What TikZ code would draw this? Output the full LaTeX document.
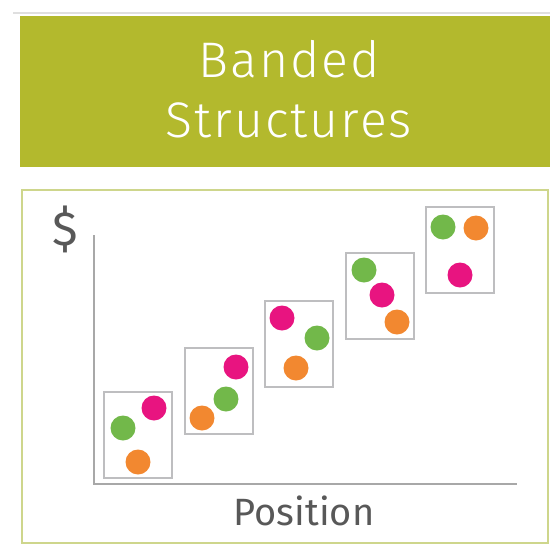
\documentclass[tikz,border=0pt]{standalone}
\usepackage{fontspec}
\setmainfont{Fira Sans}
\newfontfamily\titlefont{Fira Sans Light}[LetterSpace=4]

\definecolor{bandolive}{RGB}{179,185,45}
\definecolor{panelrim}{RGB}{206,214,140}
\definecolor{axisgray}{RGB}{168,168,168}
\definecolor{boxgray}{RGB}{190,190,192}
\definecolor{labelgray}{RGB}{88,88,88}
\definecolor{dotpink}{RGB}{232,20,128}
\definecolor{dotgreen}{RGB}{114,184,74}
\definecolor{dotorange}{RGB}{242,136,48}

\begin{document}
\begin{tikzpicture}[x=1pt,y=-1pt,
  band/.style={draw=boxgray,line width=2pt,minimum width=68pt,minimum height=86pt,inner sep=0pt},
  dot/.style={circle,inner sep=0pt,minimum size=25pt},
  pink dot/.style={dot,fill=dotpink},
  green dot/.style={dot,fill=dotgreen},
  orange dot/.style={dot,fill=dotorange}]

  \useasboundingbox (0,0) rectangle (550,547);

  % header strip
  \draw[gray!25,line width=2pt] (13,13) -- (550,13);
  \fill[bandolive] (20,16) rectangle (550,167);
  \node[anchor=base,text=white,font=\titlefont\fontsize{50}{50}\selectfont] (title1) at (289,77) {Banded};
  \node[anchor=base,text=white,font=\titlefont\fontsize{50}{50}\selectfont] (title2) at (289,137) {Structures};

  % chart panel
  \draw[panelrim,line width=2pt] (22,190) rectangle (548,543);

  \coordinate (top) at (94,235);
  \coordinate (origin) at (94,484);
  \coordinate (right) at (517,484);
  \draw[axisgray,line width=2.5pt] (top) -- (origin) -- (right);
  \node[text=labelgray,font=\fontsize{48}{48}\selectfont] (dollar) at (65,229) {\$};
  \node[anchor=base,text=labelgray,font=\fontsize{38}{38}\selectfont] (pos) at (304,525) {Position};

  % bands, low to high
  \node[band] (b1) at (138,435) {};
  \node[band] (b2) at (218.5,391) {};
  \node[band] (b3) at (299,344) {};
  \node[band] (b4) at (379.5,296) {};
  \node[band] (b5) at (459.5,250) {};

  \node[pink dot] (p1) at (154,408) {};
  \node[green dot] (g1) at (123,428) {};
  \node[orange dot] (o1) at (138,462) {};

  \node[pink dot] (p2) at (236,367) {};
  \node[green dot] (g2) at (226,399) {};
  \node[orange dot] (o2) at (202,418) {};

  \node[pink dot] (p3) at (282,318) {};
  \node[green dot] (g3) at (317,338) {};
  \node[orange dot] (o3) at (296,368) {};

  \node[green dot] (g4) at (364,270) {};
  \node[pink dot] (p4) at (382,295) {};
  \node[orange dot] (o4) at (397,322) {};

  \node[green dot] (g5) at (443,227) {};
  \node[orange dot] (o5) at (476,228) {};
  \node[pink dot] (p5) at (460,275) {};
\end{tikzpicture}
\end{document}
